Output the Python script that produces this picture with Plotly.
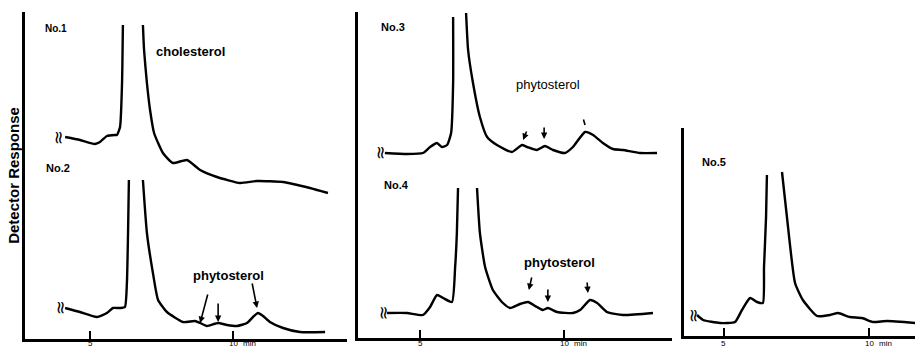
import plotly.graph_objects as go

# ---------------- data (retention time in min, detector response in arbitrary units) -------------
# Panel 1: No.1 and No.2
no1_time = [4.13, 4.65, 5.17, 5.35, 5.59, 5.87, 5.94, 6.05, 6.12, 6.15, None,
            6.85, 6.89, 6.99, 7.10, 7.24, 7.55, 7.90, 8.39, 8.85, 9.44, 10.24, 10.84, 11.75, 12.69, 13.32]
no1_resp = [203, 200, 196, 198, 204, 205, 205, 213, 257, 315, None,
            315, 290, 257, 230, 207, 187, 177, 180, 170, 163, 157, 159, 158, 152, 147]

no2_time = [4.13, 4.65, 5.24, 5.59, 5.80, 6.05, 6.22, 6.29, 6.33, 6.36, None,
            6.85, 6.99, 7.20, 7.38, 7.69, 8.25, 8.67, 8.85, 9.09, 9.48, 9.79, 10.14, 10.49, 10.70,
            10.87, 11.05, 11.29, 11.75, 12.34, 13.22]
no2_resp = [32, 28, 23, 27, 32, 32, 33, 57, 107, 160, None,
            160, 107, 67, 40, 28, 18, 19, 17, 14, 17, 15, 14, 17, 23,
            27, 24, 18, 12, 8, 8]

# Panel 2: No.3 and No.4
no3_time = [3.78, 4.55, 5.10, 5.35, 5.59, 5.76, 5.94, 6.08, 6.15, 6.15, None,
            6.60, 6.67, 6.84, 7.08, 7.33, 7.67, 8.19, 8.54, 8.72, 9.06, 9.34, 9.62, 10.03, 10.31,
            10.73, 11.01, 11.35, 11.70, 12.05, 12.64, 13.23]
no3_resp = [185, 184, 185, 191, 195, 191, 193, 205, 255, 321, None,
            325, 288, 255, 221, 201, 193, 186, 193, 191, 188, 192, 188, 185, 191,
            206, 203, 195, 189, 188, 185, 185]

no4_time = [3.85, 4.55, 5.10, 5.35, 5.59, 5.80, 6.11, 6.22, 6.28, 6.32, None,
            6.98, 7.08, 7.26, 7.53, 7.88, 8.13, 8.47, 8.75, 9.06, 9.27, 9.44, 9.76, 10.31, 10.56,
            10.90, 11.15, 11.49, 12.05, 13.09]
no4_resp = [25, 25, 23, 31, 43, 40, 36, 71, 105, 150, None,
            150, 105, 71, 48, 35, 30, 34, 36, 31, 28, 30, 26, 25, 28,
            38, 35, 26, 23, 25]

# Panel 3: No.5
no5_time = [4.07, 4.28, 4.86, 5.38, 5.62, 5.90, 6.14, 6.34, 6.38, 6.45, 6.48, None,
            7.00, 7.17, 7.45, 7.72, 8.21, 8.66, 8.93, 9.34, 9.76, 10.14, 10.62, 11.59]
no5_resp = [22, 17, 14, 15, 27, 39, 35, 34, 70, 120, 162, None,
            165, 120, 54, 37, 21, 22, 24, 20, 19, 15, 16, 14]

tick_vals = [5, 10]
tick_text = ["5", "10"]
unit_label = "min"

# arrows: (panel, head_time, head_resp, tail_time, tail_resp, has_head)
arrows = [
    (1, 8.85, 17, 9.13, 47, True), (1, 9.48, 18, 9.48, 38, True), (1, 10.84, 32, 10.66, 58, True),
    (2, 8.58, 198, 8.72, 208, True), (2, 9.31, 199, 9.31, 212, True), (2, 10.73, 213, 10.66, 220, False),
    (2, 8.78, 48, 8.89, 62, True), (2, 9.44, 36, 9.44, 50, True), (2, 10.83, 45, 10.80, 57, True),
]

# labels: (panel, text, time, resp, size)
labels = [
    (1, "<b>No.1</b>", 3.81, 311, 10), (1, "<b>No.2</b>", 3.88, 172, 11),
    (1, "<b>cholesterol</b>", 8.53, 288, 13), (1, "<b>phytosterol</b>", 9.83, 65, 13),
    (2, "<b>No.3</b>", 4.06, 311, 11), (2, "<b>No.4</b>", 4.17, 153, 11),
    (2, "phytosterol", 9.44, 253, 13), (2, "<b>phytosterol</b>", 9.83, 76, 13),
    (3, "<b>No.5</b>", 4.66, 175, 11),
]

# break marks at the start of each trace: (panel, time, resp)
breaks = [(1, 3.95, 202), (1, 4.02, 32), (2, 3.68, 185), (2, 3.78, 25), (3, 4.00, 21)]

# ---------------- figure ----------------
fig = go.Figure()
line = dict(color="black", width=2.4, shape="spline", smoothing=0.5)
fig.add_trace(go.Scatter(x=no1_time, y=no1_resp, mode="lines", line=line, xaxis="x", yaxis="y"))
fig.add_trace(go.Scatter(x=no2_time, y=no2_resp, mode="lines", line=line, xaxis="x", yaxis="y"))
fig.add_trace(go.Scatter(x=no3_time, y=no3_resp, mode="lines", line=line, xaxis="x2", yaxis="y2"))
fig.add_trace(go.Scatter(x=no4_time, y=no4_resp, mode="lines", line=line, xaxis="x2", yaxis="y2"))
fig.add_trace(go.Scatter(x=no5_time, y=no5_resp, mode="lines", line=line, xaxis="x3", yaxis="y3"))

W, H = 915, 348
def px(v):
    return v / W
def py(v):
    return 1 - v / H

xcommon = dict(showline=True, linecolor="black", linewidth=2.5, showgrid=False, zeroline=False,
               ticks="inside", ticklen=8, tickwidth=1.5, tickcolor="black", automargin=False,
               showticklabels=False, fixedrange=True)
ycommon = dict(showline=True, linecolor="black", linewidth=2.5, showgrid=False, zeroline=False,
               showticklabels=False, ticks="", fixedrange=True, automargin=False)

fig.update_layout(
    width=W, height=H, margin=dict(l=0, r=0, t=0, b=0, autoexpand=False),
    paper_bgcolor="white", plot_bgcolor="white", showlegend=False,
    xaxis=dict(xcommon, domain=[px(25), px(347)], range=[2.727, 13.986], anchor="y",
               tickvals=tick_vals),
    yaxis=dict(ycommon, domain=[py(339), py(12)], range=[1, 328], anchor="x",
               title=dict(text="<b>Detector Response</b>", standoff=0,
                          font=dict(family="Liberation Sans", size=15, color="black"))),
    xaxis2=dict(xcommon, domain=[px(358), px(672)], range=[2.847, 13.75], anchor="y2",
                tickvals=tick_vals),
    yaxis2=dict(ycommon, domain=[py(338), py(12)], range=[0, 326], anchor="x2"),
    xaxis3=dict(xcommon, domain=[px(684), 1.0], range=[3.621, 11.586], anchor="y3",
                tickvals=tick_vals),
    yaxis3=dict(ycommon, domain=[py(336), py(128)], range=[1, 209], anchor="x3"),
)

def refs(p):
    return ("x", "y") if p == 1 else (f"x{p}", f"y{p}")

for p, hx, hy, tx, ty, head in arrows:
    xr, yr = refs(p)
    fig.add_annotation(x=hx, y=hy, ax=tx, ay=ty, xref=xr, yref=yr, axref=xr, ayref=yr,
                       text="", showarrow=True, arrowhead=2 if head else 0, arrowsize=0.8,
                       arrowwidth=1.6, arrowcolor="black", standoff=0, startstandoff=0)

for p, t, x, y, s in labels:
    xr, yr = refs(p)
    fig.add_annotation(x=x, y=y, xref=xr, yref=yr, text=t, showarrow=False,
                       font=dict(family="Liberation Sans", size=s, color="black"))

for p, x, y in breaks:
    xr, yr = refs(p)
    fig.add_annotation(x=x, y=y, xref=xr, yref=yr, text="≈", textangle=90, showarrow=False,
                       font=dict(family="DejaVu Sans", size=18, color="black"))

# tick labels and unit, squeezed into the strip under each axis
tick_font = dict(family="Liberation Sans", size=8, color="black")
for xr in ("x", "x2", "x3"):
    for v, t in zip(tick_vals, tick_text):
        fig.add_annotation(x=v, y=0, xref=xr, yref="paper", text=t, showarrow=False,
                           xanchor="center", yanchor="bottom", borderpad=0, yshift=-1,
                           font=tick_font)
    fig.add_annotation(x=10.3, y=0, xref=xr, yref="paper", text=unit_label, showarrow=False,
                       xanchor="left", yanchor="bottom", borderpad=0, yshift=-1, font=tick_font)

fig.write_html("out.html")
